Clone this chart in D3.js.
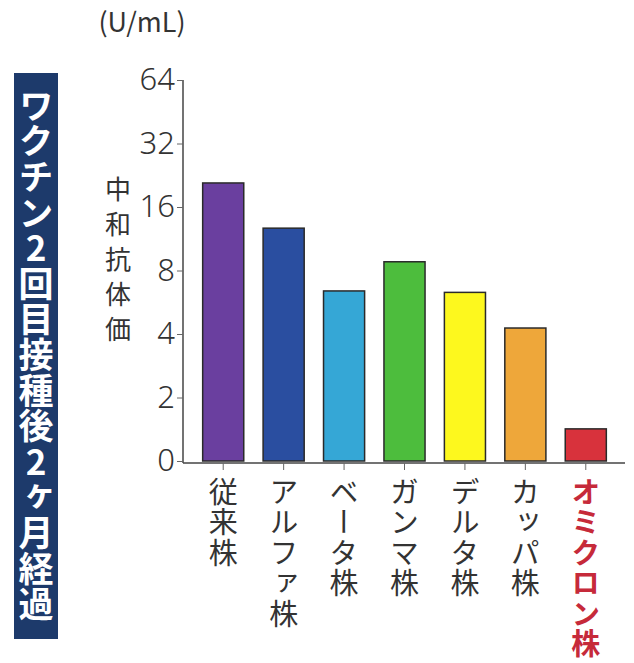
<!DOCTYPE html>
<html>
<head>
<meta charset="utf-8">
<script src="https://cdn.jsdelivr.net/npm/d3@7"></script>
<style>
  body { margin: 0; background: #fff; }
  svg text { font-family: "Noto Sans CJK JP", "Noto Sans", sans-serif; }
  .vert { writing-mode: vertical-rl; text-orientation: upright; }
</style>
</head>
<body>
<script>
// strains and neutralizing antibody titer (U/mL), log2 axis, "0" = 1
var strains = ["従来株", "アルファ株", "ベータ株", "ガンマ株", "デルタ株", "カッパ株", "オミクロン株"];
var titers = [20.8, 12.7, 6.4, 8.8, 6.3, 4.27, 1.42];
var colors = ["#6a3f9f", "#2a4ea0", "#35a7d6", "#4dbd3d", "#fdf81e", "#eea73a", "#d8323c"];
var tickValues = [1, 2, 4, 8, 16, 32, 64];
var tickLabels = ["0", "2", "4", "8", "16", "32", "64"];

var width = 634, height = 663;

var svg = d3.select("body").append("svg")
    .attr("width", width)
    .attr("height", height);

var y = d3.scaleLog().base(2)
    .domain([1, 64])
    .range([461, 80]);

var x = d3.scaleBand()
    .domain(strains)
    .range([193, 616])
    .paddingInner(0.32)
    .paddingOuter(0.16);

var axisX = 183;

// title box on the left
svg.append("rect")
    .attr("x", 14).attr("y", 73)
    .attr("width", 44).attr("height", 566)
    .attr("fill", "#1d3a6b");

svg.append("text")
    .attr("class", "vert")
    .attr("x", 36).attr("y", 88)
    .attr("fill", "#fff")
    .style("font-size", "35px")
    .style("font-weight", "bold")
    .style("letter-spacing", "0.6px")
    .text("ワクチン2回目接種後2ヶ月経過");

// unit
svg.append("text")
    .attr("x", 142).attr("y", 32)
    .attr("text-anchor", "middle")
    .attr("fill", "#333")
    .style("font-size", "27px")
    .text("(U/mL)");

// y title
svg.append("text")
    .attr("class", "vert")
    .attr("x", 118).attr("y", 176)
    .attr("fill", "#333")
    .style("font-size", "26px")
    .style("letter-spacing", "9px")
    .text("中和抗体価");

// bars
svg.selectAll(".bar")
    .data(strains)
  .enter().append("rect")
    .attr("class", "bar")
    .attr("x", function(d) { return x(d); })
    .attr("y", function(d, i) { return y(titers[i]); })
    .attr("width", x.bandwidth())
    .attr("height", function(d, i) { return y(1) - y(titers[i]); })
    .attr("fill", function(d, i) { return colors[i]; })
    .attr("stroke", "#2a2a2a")
    .attr("stroke-width", 1.5);

// y axis
var gy = svg.append("g")
    .attr("transform", "translate(" + axisX + ",0)")
    .call(d3.axisLeft(y)
      .tickValues(tickValues)
      .tickSize(6)
      .tickPadding(2)
      .tickFormat(function(d, i) { return tickLabels[i]; }));
gy.select(".domain").attr("stroke", "#444").attr("stroke-width", 1.5)
    .attr("d", "M0,80V463");
gy.selectAll(".tick line").attr("stroke", "#666");
gy.selectAll(".tick text")
    .attr("fill", "#333")
    .style("font-size", "31px")
    .style("font-family", "'Noto Sans', sans-serif")
    .style("font-weight", "300");

// x axis
var gx = svg.append("g")
    .attr("transform", "translate(0," + 463 + ")")
    .call(d3.axisBottom(x).tickSize(7).tickFormat(""));
gx.select(".domain").attr("stroke", "#444").attr("stroke-width", 1.5)
    .attr("d", "M" + axisX + ",0H625");
gx.selectAll(".tick line").attr("stroke", "#666");

svg.selectAll(".xlab")
    .data(strains)
  .enter().append("text")
    .attr("class", "vert")
    .attr("x", function(d) { return x(d) + x.bandwidth() / 2; })
    .attr("y", 477)
    .attr("fill", function(d, i) { return i === strains.length - 1 ? "#c62a3a" : "#333"; })
    .style("font-size", "29px")
    .style("font-weight", function(d, i) { return i === strains.length - 1 ? "bold" : "normal"; })
    .style("letter-spacing", "1.5px")
    .text(function(d) { return d; });
</script>
</body>
</html>
